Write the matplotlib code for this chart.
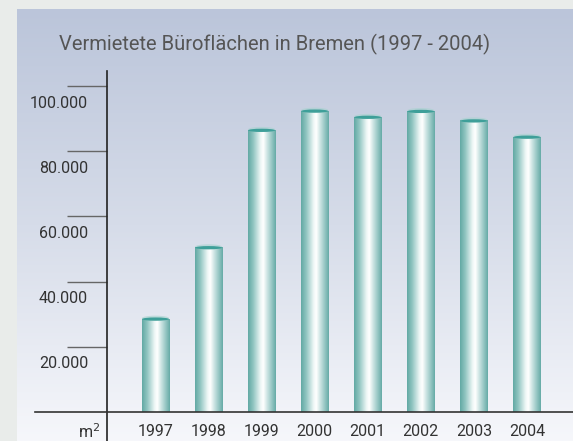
import numpy as np
import matplotlib.pyplot as plt
from matplotlib.colors import LinearSegmentedColormap
from matplotlib.patches import Ellipse
from matplotlib.lines import Line2D

# Daten
jahre = ['1997', '1998', '1999', '2000', '2001', '2002', '2003', '2004']
flaeche = [28500, 50400, 86400, 92300, 90400, 92200, 89300, 84300]
ytick_werte = [20000, 40000, 60000, 80000, 100000]
ytick_texte = ['20.000', '40.000', '60.000', '80.000', '100.000']
titel = 'Vermietete Büroflächen in Bremen (1997 - 2004)'

W, H = 573, 441
fig = plt.figure(figsize=(W / 100, H / 100), dpi=100)
fig.patch.set_facecolor('#e9ecea')

# Hintergrund mit Farbverlauf
bg = fig.add_axes([17 / W, 0, 1 - 17 / W, (H - 9) / H])
verlauf = np.linspace(0, 1, 256).reshape(-1, 1)
bg_cmap = LinearSegmentedColormap.from_list('bg', ['#bbc5da', '#d6dce9', '#f6f7fb'])
bg.imshow(verlauf, aspect='auto', cmap=bg_cmap, extent=(0, 1, 0, 1), origin='upper')
bg.set_axis_off()

# Hauptachse: x von 107 px bis rechts, y-Basis bei 412 px
px_pro_1000 = 3.26
ytop = (412 - 71) / px_pro_1000 * 1000
ax = fig.add_axes([107 / W, (H - 412) / H, 1 - 107 / W, (412 - 71) / H])
ax.set_facecolor('none')
abstand = 53.07
x0 = (107 - 155.5) / abstand

bar_cmap = LinearSegmentedColormap.from_list(
    'zyl', [(0, '#62a9a4'), (0.18, '#8fc4c0'), (0.45, '#eef7f6'), (0.55, '#ffffff'),
            (0.72, '#c2dfdd'), (1, '#66aba7')])
grad = np.linspace(0, 1, 128).reshape(1, -1)
breite = 0.51
for i, wert in enumerate(flaeche):
    ax.imshow(grad, aspect='auto', cmap=bar_cmap, origin='lower',
              extent=(i - breite / 2, i + breite / 2, 0, wert), zorder=2)
    ax.add_patch(Ellipse((i, wert + 300), breite, 1500, color='#a6d2ce', alpha=0.6, zorder=3, lw=0))
    ax.add_patch(Ellipse((i, wert), breite, 1000, color='#3e9f99', zorder=3, lw=0))

ax.set_xlim(x0, (573 - 155.5) / abstand)
ax.set_ylim(0, ytop)

for s in ['top', 'right', 'bottom']:
    ax.spines[s].set_visible(False)
ax.spines['left'].set_color('#222222')
ax.spines['left'].set_linewidth(1.2)
ax.spines['left'].set_bounds(-10000, ytop)
ax.spines['left'].set_clip_on(False)

ax.set_yticks(ytick_werte)
ax.set_yticklabels([])
ax.tick_params(axis='y', length=28.8, width=1.0, color='#666666', direction='out')
ax.set_xticks([])

schrift = 'Roboto'
for wert, txt in zip(ytick_werte, ytick_texte):
    ax.text(x0 - 19 / abstand, wert - 17 / px_pro_1000 * 1000, txt,
            ha='right', va='center', fontsize=11.5, color='#333333', family=schrift)

for i, j in enumerate(jahre):
    ax.text(i, -20 / px_pro_1000 * 1000, j, ha='center', va='center',
            fontsize=11.5, color='#333333', family=schrift, clip_on=False)
ax.text((100 - 155.5) / abstand, -20 / px_pro_1000 * 1000, 'm$^2$', ha='right', va='center',
        fontsize=11.5, color='#333333', family=schrift)

# Grundlinie
fig.add_artist(Line2D([35 / W, 1], [(H - 412) / H] * 2, color='#333333', lw=1.2))

fig.text(275 / W, 1 - 44 / H, titel, ha='center', va='center', fontsize=14.5,
         color='#555555', family=schrift)

fig.savefig('out.png', dpi=100)
